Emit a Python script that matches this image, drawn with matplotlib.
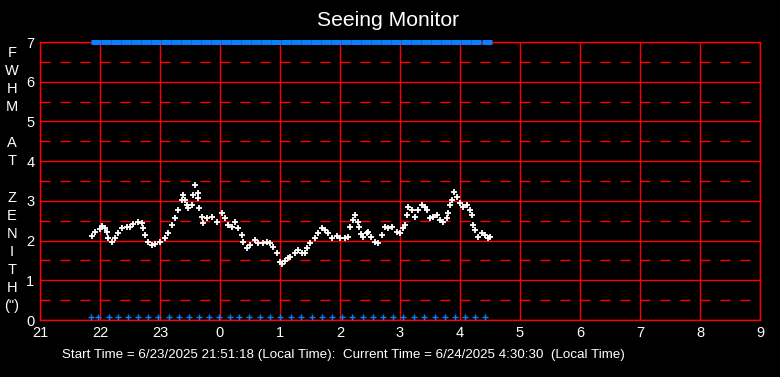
import matplotlib.pyplot as plt

# seeing data: minutes after 21:00 local time, FWHM in arcsec
minutos = [52, 55, 60, 62, 65, 67, 68, 72, 75, 78, 82, 87, 90, 93, 98, 102, 103, 105, 108, 112,
           115, 120, 125, 128, 132, 135, 138, 142, 143, 145, 147, 148, 152, 153, 155, 158, 158, 159,
           162, 163, 167, 172, 177, 182, 185, 188, 192, 195, 198, 202, 203, 207, 210, 215, 218, 223,
           227, 230, 233, 237, 240, 242, 245, 248, 250, 255, 258, 262, 265, 267, 270, 275, 278, 282,
           285, 288, 292, 297, 300, 305, 308, 310, 313, 315, 318, 319, 321, 323, 327, 328, 331, 335,
           338, 342, 345, 348, 352, 357, 360, 363, 365, 367, 368, 372, 375, 378, 382, 385, 387, 390,
           393, 397, 400, 403, 407, 408, 410, 412, 414, 417, 420, 423, 427, 430, 432, 433, 435, 438,
           442, 445, 448, 450]
fwhm = [2.12, 2.22, 2.29, 2.37, 2.32, 2.22, 2.06, 1.96, 2.06, 2.18, 2.31, 2.35, 2.33, 2.41, 2.46,
        2.43, 2.31, 2.14, 1.97, 1.89, 1.91, 1.97, 2.06, 2.18, 2.39, 2.56, 2.77, 3.02, 3.16, 3.02,
        2.90, 2.81, 2.90, 3.15, 3.40, 3.19, 3.08, 2.81, 2.60, 2.43, 2.56, 2.60, 2.48, 2.69, 2.56,
        2.39, 2.35, 2.48, 2.31, 2.14, 1.97, 1.81, 1.89, 2.01, 1.93, 1.93, 1.97, 1.93, 1.85, 1.68,
        1.47, 1.40, 1.49, 1.57, 1.59, 1.68, 1.76, 1.68, 1.68, 1.81, 1.93, 2.06, 2.18, 2.31, 2.27,
        2.18, 2.07, 2.12, 2.07, 2.06, 2.10, 2.35, 2.52, 2.64, 2.48, 2.35, 2.16, 2.10, 2.18, 2.22,
        2.10, 1.97, 1.93, 2.14, 2.35, 2.31, 2.35, 2.22, 2.18, 2.31, 2.39, 2.64, 2.85, 2.77, 2.60,
        2.77, 2.90, 2.85, 2.77, 2.56, 2.60, 2.64, 2.52, 2.48, 2.56, 2.69, 2.90, 3.02, 3.23, 3.10,
        2.94, 2.85, 2.90, 2.77, 2.64, 2.39, 2.27, 2.10, 2.18, 2.14, 2.06, 2.10]

# blue status markers along the bottom (minutes after 21:00)
marcas = [51, 58, 69, 78, 88, 98, 108, 118, 129, 139, 149, 159, 169, 179, 190, 199, 209, 220, 230,
          240, 251, 261, 272, 282, 292, 302, 312, 323, 333, 343, 353, 363, 374, 384, 395, 405, 415,
          425, 435, 445]
# blue markers along the top edge (minutes after 21:00)
marcas_topo = [56, 66, 76, 86, 96, 106, 116, 126, 136, 146, 156, 166, 176, 186, 196, 206, 216, 226,
               236, 246, 256, 266, 276, 286, 296, 306, 316, 326, 336, 346, 356, 366, 376, 386, 396,
               406, 416, 426, 436, 447]

horas_ticks = list(range(21, 34))
rotulos_x = ['21', '22', '23', '0', '1', '2', '3', '4', '5', '6', '7', '8', '9']
letras_y = ['F', 'W', 'H', 'M', '', 'A', 'T', '', 'Z', 'E', 'N', 'I', 'T', 'H', '(")']

plt.rcParams['font.family'] = ['Liberation Sans', 'DejaVu Sans']

fig = plt.figure(figsize=(7.8, 3.77), dpi=100, facecolor='black')
ax = fig.add_axes([40 / 780, 57 / 377, 720 / 780, 278 / 377])
ax.set_facecolor('black')
ax.set_xlim(21, 33)
ax.set_ylim(0, 7)

for h in horas_ticks:
    ax.axvline(h, color='red', lw=1, zorder=1)
for v in range(8):
    ax.axhline(v, color='red', lw=1, zorder=1)
for v in range(7):
    ax.axhline(v + 0.5, color='red', lw=1, dashes=(7.2, 7.2), zorder=1)

t = [21 + m / 60 for m in minutos]
ax.plot(t, fwhm, linestyle='none', marker='+', color='white', markersize=5, mew=1.3, zorder=3)

tt = [21 + m / 60 for m in marcas_topo]
ax.plot(tt, [7] * len(tt), linestyle='none', marker='_', color='#0a80ff', markersize=6.6,
        mew=3.6, clip_on=False, zorder=4)
tm = [21 + m / 60 for m in marcas]
ax.plot(tm, [0.08] * len(tm), linestyle='none', marker='+', color='#0a80ff',
        markersize=4.5, mew=1, clip_on=False, zorder=4)

for s in ax.spines.values():
    s.set_color('red')
    s.set_linewidth(1)

ax.set_xticks(horas_ticks)
ax.set_xticklabels(rotulos_x)
ax.set_yticks(range(8))
ax.tick_params(colors='white', labelsize=10.5, length=0, pad=4)

fig.text(388 / 780, 1 - 20 / 377, 'Seeing Monitor', color='white', fontsize=15.2,
         ha='center', va='center')
for i, c in enumerate(letras_y):
    fig.text(12 / 780, 1 - (53 + 18.07 * i) / 377, c, color='white', fontsize=10.5,
             ha='center', va='center')
fig.text(62 / 780, 1 - 355 / 377,
         'Start Time = 6/23/2025 21:51:18 (Local Time):  Current Time = 6/24/2025 4:30:30  (Local Time)',
         color='white', fontsize=9.6, ha='left', va='center')

plt.savefig('out.png', dpi=100, facecolor='black')
